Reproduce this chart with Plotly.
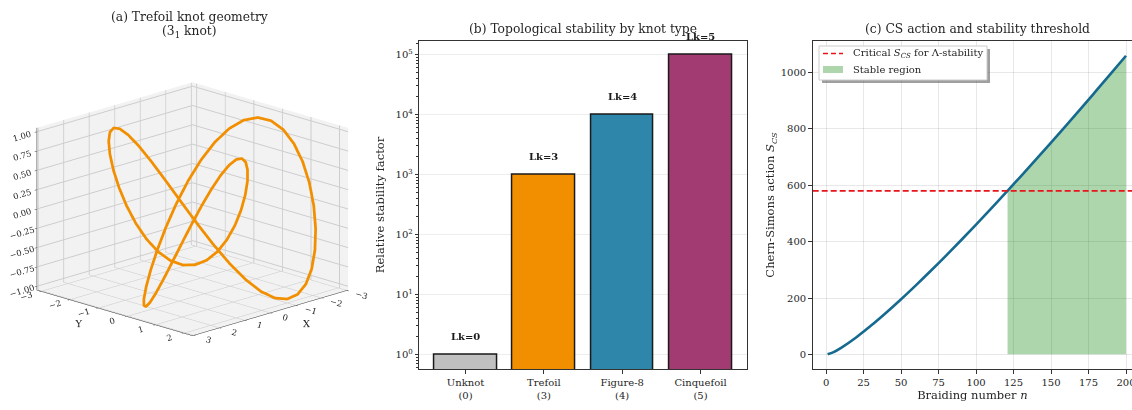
import math
import plotly.graph_objects as go

# ---------------- data ----------------
# (a) trefoil knot sample points (t = 0..360 deg, 5 deg steps)
knot_x = [0, .4345, .8576, 1.2588, 1.6276, 1.9547, 2.2321, 2.4530, 2.6124, 2.7071, 2.7356, 2.6986,
          2.5981, 2.4384, 2.2253, 1.9659, 1.6688, 1.3435, 1.0, .6489, .3008, -.0341, -.3459, -.6258,
          -.8660, -1.0602, -1.2036, -1.2929, -1.3268, -1.3058, -1.2321, -1.1095, -.9436, -.7412, -.5104, -.2601,
          0, .2601, .5104, .7412, .9436, 1.1095, 1.2321, 1.3058, 1.3268, 1.2929, 1.2036, 1.0602,
          .8660, .6258, .3459, .0341, -.3008, -.6489, -1.0, -1.3435, -1.6688, -1.9659, -2.2253, -2.4384,
          -2.5981, -2.6986, -2.7356, -2.7071, -2.6124, -2.4530, -2.2321, -1.9547, -1.6276, -1.2588, -.8576, -.4345, 0]
knot_y = [-1, -.9734, -.8946, -.7662, -.5924, -.3793, -.1340, .1352, .4187, .7071, .9901, 1.2576,
          1.5, 1.7082, 1.8741, 1.9909, 2.0530, 2.0568, 2.0, 1.8824, 1.7058, 1.4733, 1.1901, .8630,
          .5, .1104, -.2955, -.7071, -1.1133, -1.5032, -1.8660, -2.1919, -2.4718, -2.6980, -2.8642, -2.9658,
          -3, -2.9658, -2.8642, -2.6980, -2.4718, -2.1919, -1.8660, -1.5032, -1.1133, -.7071, -.2955, .1104,
          .5, .8630, 1.1901, 1.4733, 1.7058, 1.8824, 2.0, 2.0568, 2.0530, 1.9909, 1.8741, 1.7082,
          1.5, 1.2576, .9901, .7071, .4187, .1352, -.1340, -.3793, -.5924, -.7662, -.8946, -.9734, -1]
knot_z = [0, -.2588, -.5, -.7071, -.8660, -.9659, -1, -.9659, -.8660, -.7071, -.5, -.2588,
          0, .2588, .5, .7071, .8660, .9659, 1, .9659, .8660, .7071, .5, .2588,
          0, -.2588, -.5, -.7071, -.8660, -.9659, -1, -.9659, -.8660, -.7071, -.5, -.2588,
          0, .2588, .5, .7071, .8660, .9659, 1, .9659, .8660, .7071, .5, .2588,
          0, -.2588, -.5, -.7071, -.8660, -.9659, -1, -.9659, -.8660, -.7071, -.5, -.2588,
          0, .2588, .5, .7071, .8660, .9659, 1, .9659, .8660, .7071, .5, .2588, 0]
knot_x_ticks = [-3, -2, -1, 0, 1, 2, 3]
knot_y_ticks = [-3, -2, -1, 0, 1, 2]
knot_z_ticks = [-1, -0.75, -0.5, -0.25, 0, 0.25, 0.5, 0.75, 1.0]

# (b) stability by knot type
knot_types = ["Unknot<br>(0)", "Trefoil<br>(3)", "Figure-8<br>(4)", "Cinquefoil<br>(5)"]
stability = [1, 1000, 10000, 100000]
lk_labels = ["Lk=0", "Lk=3", "Lk=4", "Lk=5"]
bar_colors = ["#C0C0C0", "#F18F01", "#2E86AB", "#A23B72"]
log_tick_vals = [1, 10, 100, 1000, 10000, 100000]
log_tick_text = ["10<sup>0</sup>", "10<sup>1</sup>", "10<sup>2</sup>", "10<sup>3</sup>",
                 "10<sup>4</sup>", "10<sup>5</sup>"]
log_minor_vals = [0.6, 0.7, 0.8, 0.9, 2, 3, 4, 5, 6, 7, 8, 9, 20, 30, 40, 50, 60, 70, 80, 90,
                  200, 300, 400, 500, 600, 700, 800, 900, 2000, 3000, 4000, 5000, 6000, 7000, 8000, 9000,
                  20000, 30000, 40000, 50000, 60000, 70000, 80000, 90000, 150000]

# (c) Chern-Simons action vs braiding number
n_vals = [1, 5, 10, 20, 30, 40, 50, 60, 70, 80, 90, 100, 110, 120, 121, 130, 140, 150, 160, 170, 180, 190, 200]
s_cs = [0, 8.0, 23.0, 59.9, 102.0, 147.6, 195.6, 245.7, 297.4, 350.6, 405.0, 460.5, 517.2, 574.5, 580.3,
        632.8, 691.8, 751.6, 812.0, 873.0, 934.7, 996.9, 1059.7]
s_critical = 580
n_stable_start = 121
n_ticks = [0, 25, 50, 75, 100, 125, 150, 175, 200]
s_ticks = [0, 200, 400, 600, 800, 1000]

FONT = "DejaVu Serif"
TXT = "#262626"
W, H = 1132, 410


def px(xp):
    return xp / W


def py(yp):
    return 1 - yp / H


fig = go.Figure()

# ---------------- (a) 3D knot ----------------
fig.add_trace(go.Scatter3d(x=knot_x, y=knot_y, z=knot_z, mode="lines",
                           line=dict(color="#F18F01", width=5.5), showlegend=False, scene="scene"))

ax3 = dict(showbackground=True, backgroundcolor="rgb(242,242,242)", gridcolor="rgb(205,205,205)",
           showspikes=False, zeroline=False, linecolor="#333", showline=True,
           tickfont=dict(family=FONT, size=10, color=TXT), ticks="outside", ticklen=3, tickcolor="#333")
fig.update_layout(scene=dict(
    domain=dict(x=[0.0, 0.34], y=[0.08, 0.90]),
    xaxis=dict(ax3, title=dict(text="X", font=dict(family=FONT, size=10, color=TXT)),
               range=[-3.05, 3.05], tickvals=knot_x_ticks),
    yaxis=dict(ax3, title=dict(text="Y", font=dict(family=FONT, size=10, color=TXT)),
               range=[-3.15, 2.3], tickvals=knot_y_ticks),
    zaxis=dict(ax3, title=dict(text=""), range=[-1.05, 1.05],
               tickvals=knot_z_ticks, tickformat=".2f"),
    aspectmode="manual", aspectratio=dict(x=1.31, y=1.31, z=1.01),
    camera=dict(eye=dict(x=1.5, y=1.5, z=0.65), center=dict(x=0, y=0, z=0),
                projection=dict(type="orthographic")),
))

# ---------------- (b) bar chart ----------------
xb = list(range(len(stability)))
fig.add_trace(go.Bar(x=xb, y=stability, width=0.8,
                     marker=dict(color=bar_colors, line=dict(color="#1a1a1a", width=1.5)),
                     showlegend=False, xaxis="x", yaxis="y"))
for i, (v, lab) in enumerate(zip(stability, lk_labels)):
    fig.add_annotation(x=i, y=math.log10(v * 1.5), xref="x", yref="y", text=f"<b>{lab}</b>",
                       showarrow=False, yanchor="bottom", font=dict(family=FONT, size=10, color="#1a1a1a"))

common_axis = dict(showline=True, linecolor="#333", linewidth=1, ticks="outside", ticklen=3.5,
                   tickcolor="#333", zeroline=False, automargin=False,
                   tickfont=dict(family=FONT, size=10, color=TXT))

fig.update_layout(
    xaxis=dict(common_axis, domain=[px(419.3), px(746.7)], anchor="y", range=[-0.59, 3.59],
               tickvals=xb, ticktext=knot_types, mirror=True, showgrid=False),
    yaxis=dict(common_axis, domain=[py(369.3), py(40.7)], anchor="x", type="log", range=[-0.25, 5.227],
               tickvals=log_tick_vals, ticktext=log_tick_text, mirror=True,
               showgrid=True, gridcolor="rgba(0,0,0,0.07)",
               minor=dict(tickmode="array", tickvals=log_minor_vals, ticks="outside", ticklen=2,
                          tickcolor="#333", showgrid=False),
               title=dict(text="Relative stability factor", font=dict(family=FONT, size=11.5, color=TXT),
                          standoff=8)),
)

# ---------------- (c) CS action ----------------
idx0 = n_vals.index(n_stable_start)
fig.add_trace(go.Scatter(x=n_vals[idx0:], y=s_cs[idx0:], mode="lines", line=dict(width=0, shape="spline"),
                         fill="tozeroy", fillcolor="rgba(0,128,0,0.32)", name="Stable region",
                         showlegend=False, xaxis="x2", yaxis="y2"))
fig.add_trace(go.Scatter(x=n_vals, y=s_cs, mode="lines", line=dict(color="#16698F", width=2.6, shape="spline"),
                         showlegend=False, xaxis="x2", yaxis="y2"))
fig.add_trace(go.Scatter(x=[-8.95, 209.95], y=[s_critical, s_critical], mode="lines",
                         line=dict(color="#E8141B", width=1.6, dash="6px,3px"),
                         showlegend=False, xaxis="x2", yaxis="y2"))

fig.update_layout(
    xaxis2=dict(common_axis, domain=[px(812.7), 1.0], anchor="y2", range=[-8.95, 204.0],
                tickvals=n_ticks, mirror=True, ticklabeloverflow="allow",
                showgrid=True, gridcolor="rgba(0,0,0,0.09)",
                title=dict(text="Braiding number <i>n</i>", font=dict(family=FONT, size=11.5, color=TXT),
                           standoff=4)),
    yaxis2=dict(common_axis, domain=[py(369.3), py(40.7)], anchor="x2", range=[-53, 1113],
                tickvals=s_ticks, mirror=False,
                showgrid=True, gridcolor="rgba(0,0,0,0.09)",
                title=dict(text="Chern-Simons action <i>S<sub>CS</sub></i>",
                           font=dict(family=FONT, size=11.5, color=TXT), standoff=3)),
)

# manual legend (matplotlib-style with shadow)
lx0, ly0, lx1, ly1 = 819, 46, 987, 80
fig.add_shape(type="rect", xref="paper", yref="paper", x0=px(lx0 + 3), x1=px(lx1 + 3), y0=py(ly1 + 3), y1=py(ly0 + 3),
              fillcolor="rgba(80,80,80,0.55)", line=dict(width=0), layer="above")
fig.add_shape(type="rect", xref="paper", yref="paper", x0=px(lx0), x1=px(lx1), y0=py(ly1), y1=py(ly0),
              fillcolor="white", line=dict(color="#cccccc", width=1), layer="above")
fig.add_shape(type="line", xref="paper", yref="paper", x0=px(823), x1=px(843), y0=py(53.5), y1=py(53.5),
              line=dict(color="#E8141B", width=1.6, dash="5px,3px"), layer="above")
fig.add_shape(type="rect", xref="paper", yref="paper", x0=px(823), x1=px(843), y0=py(73), y1=py(66),
              fillcolor="rgba(0,128,0,0.32)", line=dict(width=0), layer="above")
fig.add_annotation(x=px(851), y=py(53.5), xref="paper", yref="paper", xanchor="left", yanchor="middle",
                   text="Critical <i>S<sub>CS</sub></i> for Λ-stability", showarrow=False,
                   font=dict(family=FONT, size=10, color=TXT))
fig.add_annotation(x=px(851), y=py(69.5), xref="paper", yref="paper", xanchor="left", yanchor="middle",
                   text="Stable region", showarrow=False, font=dict(family=FONT, size=10, color=TXT))

# titles
titles = [
    (px(189), py(17), "(a) Trefoil knot geometry"),
    (px(189), py(32), "(3<sub>1</sub> knot)"),
    (px(583), py(29), "(b) Topological stability by knot type"),
    (px(977), py(29), "(c) CS action and stability threshold"),
]
for x, y, t in titles:
    fig.add_annotation(x=x, y=y, xref="paper", yref="paper", text=t, showarrow=False,
                       xanchor="center", yanchor="middle", font=dict(family=FONT, size=12.3, color=TXT))

fig.update_layout(width=W, height=H, margin=dict(l=0, r=0, t=0, b=0, autoexpand=False),
                  paper_bgcolor="white", plot_bgcolor="white",
                  font=dict(family=FONT, color=TXT), bargap=0, showlegend=False)

fig.write_html("out.html", config={"displayModeBar": False},
               post_script="document.body.style.margin='0px';document.body.style.overflow='hidden';")
